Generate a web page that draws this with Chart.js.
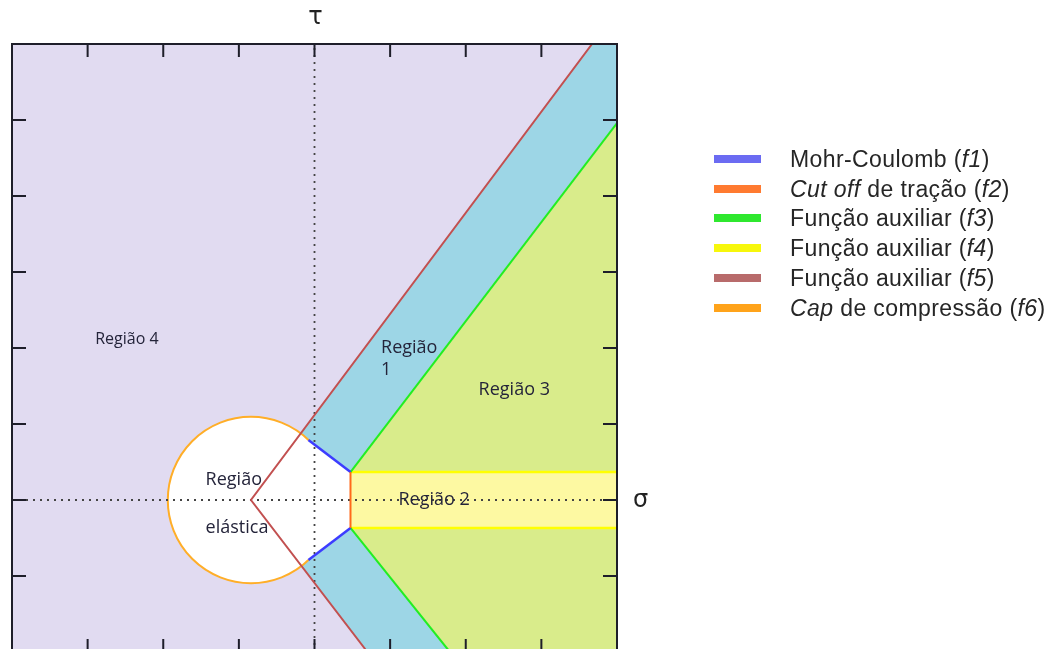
<!DOCTYPE html>
<html>
<head>
<meta charset="utf-8">
<script src="https://cdn.jsdelivr.net/npm/chart.js@4.4.1/dist/chart.umd.min.js"></script>
<style>
  html, body { margin: 0; padding: 0; background: #fff; overflow: hidden; }
  #wrap { position: relative; width: 1054px; height: 649px; overflow: hidden; }
  #plot { position: absolute; left: 0; top: 0; }
  #legend { position: absolute; left: 0; top: 0; width: 1054px; height: 649px;
    font-family: 'Liberation Sans', Arial, sans-serif; font-size: 23px; letter-spacing: 0.4px; color: #262626; }
  .row { position: absolute; left: 790px; height: 30px; line-height: 30px; white-space: nowrap; }
  .swatch { position: absolute; left: 714px; width: 47px; height: 8px; }
</style>
</head>
<body>
<div id="wrap">
  <canvas id="plot" width="1054" height="700"></canvas>
  <div id="legend"></div>
</div>
<script>
// axis ranges (sigma horizontal, tau vertical) and tick positions
const sigmaRange = [-4, 4];
const tauRange = [-2, 6];
const sigmaTicks = [-3, -2, -1, 0, 1, 2, 3];
const tauTicks = [-1, 0, 1, 2, 3, 4, 5];

// filled regions (polygon corners in sigma/tau)
const region4 = [{x: -4, y: -2}, {x: -4, y: 6}, {x: 4, y: 6}, {x: 4, y: -2}];
const region1 = [{x: -0.84, y: 0}, {x: 3.67, y: 6}, {x: 4, y: 6}, {x: 4, y: -2}, {x: 0.70, y: -2}];
const region3 = [{x: 0.476, y: 0.368}, {x: 4, y: 4.96}, {x: 4, y: -2}, {x: 1.79, y: -2}, {x: 0.476, y: -0.368}];
const region2 = [{x: 0.476, y: 0.368}, {x: 4, y: 0.368}, {x: 4, y: -0.368}, {x: 0.476, y: -0.368}];
const elasticCore = [{x: -0.84, y: 0}, {x: -0.08, y: 0.79}, {x: 0.476, y: 0.368}, {x: 0.476, y: -0.368}, {x: -0.08, y: -0.79}];

// compression cap (f6): centre and radius
const capCenter = [{x: -0.84, y: 0}];
const capRadius = 1.1;

// yield surfaces
const f1Upper = [{x: -0.08, y: 0.79}, {x: 0.476, y: 0.368}];
const f1Lower = [{x: -0.08, y: -0.79}, {x: 0.476, y: -0.368}];
const f2 = [{x: 0.476, y: 0.368}, {x: 0.476, y: -0.368}];
const f3Upper = [{x: 0.476, y: 0.368}, {x: 4, y: 4.96}];
const f3Lower = [{x: 0.476, y: -0.368}, {x: 1.79, y: -2}];
const f4Upper = [{x: 0.476, y: 0.368}, {x: 4, y: 0.368}];
const f4Lower = [{x: 0.476, y: -0.368}, {x: 4, y: -0.368}];
const f5 = [{x: 3.67, y: 6}, {x: -0.84, y: 0}, {x: 0.70, y: -2}];

// dotted coordinate axes
const sigmaAxis = [{x: -4, y: 0}, {x: 4, y: 0}];
const tauAxis = [{x: 0, y: -2}, {x: 0, y: 6}];

// region names and where they sit (left edge, baseline)
const regionNames = ['Região 4', 'Região', '1', 'Região 3', 'Região 2', 'Região', 'elástica'];
const regionSpots = [
  {x: -2.90, y: 2.05, size: 16},
  {x: 0.88, y: 1.94, size: 18},
  {x: 0.88, y: 1.64, size: 18},
  {x: 2.17, y: 1.38, size: 18},
  {x: 1.11, y: -0.07, size: 18},
  {x: -1.44, y: 0.20, size: 18},
  {x: -1.44, y: -0.43, size: 18}
];

// legend
const legendLabels = [
  'Mohr-Coulomb (<i>f1</i>)',
  '<i>Cut off</i> de tração (<i>f2</i>)',
  'Função auxiliar (<i>f3</i>)',
  'Função auxiliar (<i>f4</i>)',
  'Função auxiliar (<i>f5</i>)',
  '<i>Cap</i> de compressão (<i>f6</i>)'
];
const legendColors = ['#6b6bf2', '#ff7a30', '#2fe82f', '#f7f70c', '#b86b6b', '#ffa31a'];
const lineColors = {f1: '#3c3cff', f2: '#ff6a1a', f3: '#22ee22', f4: '#ffff00', f5: '#c25050', f6: '#ffae28'};

const legendBox = document.getElementById('legend');
legendLabels.forEach((label, i) => {
  const cy = 159 + i * 29.7;
  const sw = document.createElement('div');
  sw.className = 'swatch';
  sw.style.top = (cy - 4) + 'px';
  sw.style.background = legendColors[i];
  legendBox.appendChild(sw);
  const row = document.createElement('div');
  row.className = 'row';
  row.style.top = (cy - 15) + 'px';
  row.innerHTML = label;
  legendBox.appendChild(row);
});

const regionSet = (data, color, order) => ({
  data: data, showLine: true, fill: 'shape', backgroundColor: color,
  borderColor: 'transparent', borderWidth: 0, pointRadius: 0, order: order
});
const lineSet = (data, color, order, width, dash) => ({
  data: data, showLine: true, fill: false, borderColor: color,
  borderWidth: width || 2, borderDash: dash || [], pointRadius: 0, order: order
});

// border, inward ticks, axis names and region names
const framePlugin = {
  id: 'frame',
  afterDatasetsDraw(chart) {
    const ctx = chart.ctx;
    const a = chart.chartArea;
    const xs = chart.scales.x, ys = chart.scales.y;
    ctx.save();
    ctx.strokeStyle = '#1e1e2a';
    ctx.lineWidth = 2;
    ctx.strokeRect(a.left, a.top, a.right - a.left, a.bottom - a.top);
    ctx.beginPath();
    sigmaTicks.forEach(v => {
      const px = xs.getPixelForValue(v);
      ctx.moveTo(px, a.top); ctx.lineTo(px, a.top + 13);
      ctx.moveTo(px, a.bottom); ctx.lineTo(px, a.bottom - 13);
    });
    tauTicks.forEach(v => {
      const py = ys.getPixelForValue(v);
      ctx.moveTo(a.left, py); ctx.lineTo(a.left + 14, py);
      ctx.moveTo(a.right, py); ctx.lineTo(a.right - 14, py);
    });
    ctx.stroke();

    ctx.fillStyle = '#24243a';
    ctx.textBaseline = 'alphabetic';
    ctx.textAlign = 'left';
    regionNames.forEach((name, i) => {
      const s = regionSpots[i];
      ctx.font = s.size + 'px "Open Sans", sans-serif';
      ctx.fillText(name, xs.getPixelForValue(s.x), ys.getPixelForValue(s.y));
    });

    ctx.fillStyle = '#222';
    ctx.font = '24px "DejaVu Sans", sans-serif';
    ctx.textAlign = 'center';
    ctx.fillText('τ', xs.getPixelForValue(0) + 1, a.top - 20);
    ctx.textAlign = 'left';
    ctx.fillText('σ', a.right + 16, ys.getPixelForValue(0) + 7);
    ctx.restore();
  }
};

new Chart(document.getElementById('plot'), {
  type: 'scatter',
  data: {
    datasets: [
      regionSet(region4, '#e1dbf1', 20),
      regionSet(region1, '#9dd6e6', 19),
      regionSet(region3, '#d9ec8b', 18),
      regionSet(region2, '#fdf9a2', 17),
      {
        data: capCenter, showLine: false, order: 16,
        pointRadius: c => c.chart.scales.x.getPixelForValue(capRadius) - c.chart.scales.x.getPixelForValue(0),
        pointBackgroundColor: '#ffffff', pointBorderColor: lineColors.f6, pointBorderWidth: 2
      },
      regionSet(elasticCore, '#ffffff', 15),
      lineSet(sigmaAxis, '#444', 10, 1.8, [2, 5]),
      lineSet(tauAxis, '#444', 10, 1.8, [2, 5]),
      lineSet(f4Upper, lineColors.f4, 7, 2.5),
      lineSet(f4Lower, lineColors.f4, 7, 2.5),
      lineSet(f3Upper, lineColors.f3, 6),
      lineSet(f3Lower, lineColors.f3, 6),
      lineSet(f1Upper, lineColors.f1, 5, 2.5),
      lineSet(f1Lower, lineColors.f1, 5, 2.5),
      lineSet(f2, lineColors.f2, 4),
      lineSet(f5, lineColors.f5, 3)
    ]
  },
  options: {
    responsive: false,
    animation: false,
    events: [],
    layout: { padding: { left: 12, top: 44, right: 437, bottom: 48 } },
    scales: {
      x: { type: 'linear', min: sigmaRange[0], max: sigmaRange[1], display: false },
      y: { type: 'linear', min: tauRange[0], max: tauRange[1], display: false }
    },
    plugins: { legend: { display: false }, tooltip: { enabled: false } }
  },
  plugins: [framePlugin]
});
</script>
</body>
</html>
